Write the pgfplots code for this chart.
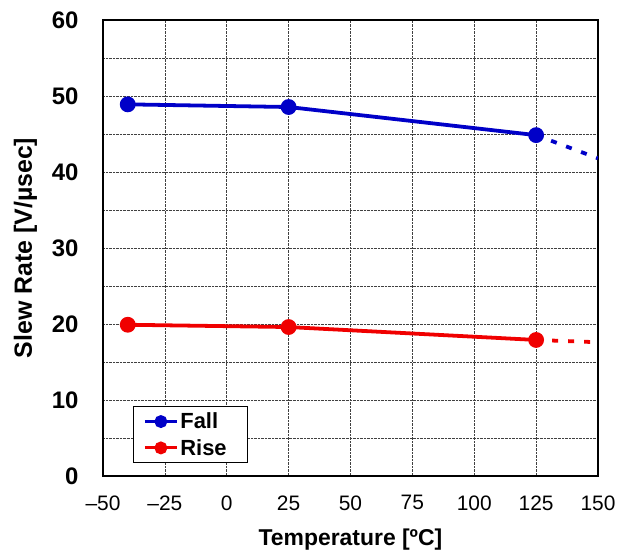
\documentclass[border=0pt]{standalone}
\usepackage{pgfplots}
\pgfplotsset{compat=1.18}
\usepackage{fontspec}
\setmainfont{Liberation Sans}
\definecolor{fallblue}{RGB}{0,0,200}
\definecolor{risered}{RGB}{240,0,0}
\begin{document}
\begin{tikzpicture}
\begin{axis}[
  name=ax,
  scale only axis,
  width=495bp, height=456bp,
  xmin=-50, xmax=150, ymin=0, ymax=60,
  xtick={-50,-25,0,25,50,75,100,125,150},
  ytick={0,10,20,30,40,50,60},
  minor ytick={5,15,25,35,45,55},
  grid=both,
  major grid style={black!75, densely dotted, line width=0.6pt},
  minor grid style={black!75, densely dotted, line width=0.6pt},
  major tick length=0pt, minor tick length=0pt,
  axis line style={black, line width=1.8pt},
  /pgf/number format/assume math mode=true,
  xticklabel style={font=\fontsize{21}{24}\selectfont, yshift=-16bp},
  yticklabel style={font=\fontsize{24}{27}\selectfont\bfseries, xshift=-21bp},
  xticklabel={\ifdim\tick pt<0pt \textendash\pgfmathparse{-\tick}\pgfmathprintnumber{\pgfmathresult}\else\pgfmathprintnumber{\tick}\fi},
  xlabel={\fontsize{23}{26}\selectfont\bfseries Temperature [ºC]},
  ylabel={\fontsize{25}{28}\selectfont\bfseries Slew Rate [V/µsec]},
  xlabel style={yshift=-12bp},
  ylabel style={yshift=8bp},
  legend style={at={(0.0606,0.0285)}, anchor=south west, draw=black, line width=0.8pt, fill=white,
    font=\fontsize{22}{24}\selectfont\bfseries, inner xsep=10bp, inner ysep=4bp, row sep=5bp},
  legend cell align=left,
  legend image code/.code={\draw[#1, line width=3pt] (0bp,0bp) -- (32bp,0bp); \fill[#1] (16bp,0bp) circle (4.5bp);},
]
\addplot[fallblue, line width=3.8pt, mark=*, mark size=6bp] coordinates {(-40,48.9) (25,48.55) (125,44.85)};
\addlegendentry{Fall}
\addplot[risered, line width=3.8pt, mark=*, mark size=6bp] coordinates {(-40,19.9) (25,19.6) (125,17.9)};
\addlegendentry{\makebox[55bp][l]{Rise}}
\addplot[fallblue, line width=3.8pt, dash pattern=on 6bp off 10bp, forget plot] coordinates {(125,44.85) (150,41.8)};
\addplot[risered, line width=3.8pt, dash pattern=on 6bp off 10bp, forget plot] coordinates {(125,17.9) (150,17.6)};
\end{axis}
\pgfresetboundingbox
\path ([shift={(-103bp,-78bp)}]ax.south west) rectangle ([shift={(34bp,20bp)}]ax.north east);
\end{tikzpicture}
\end{document}
